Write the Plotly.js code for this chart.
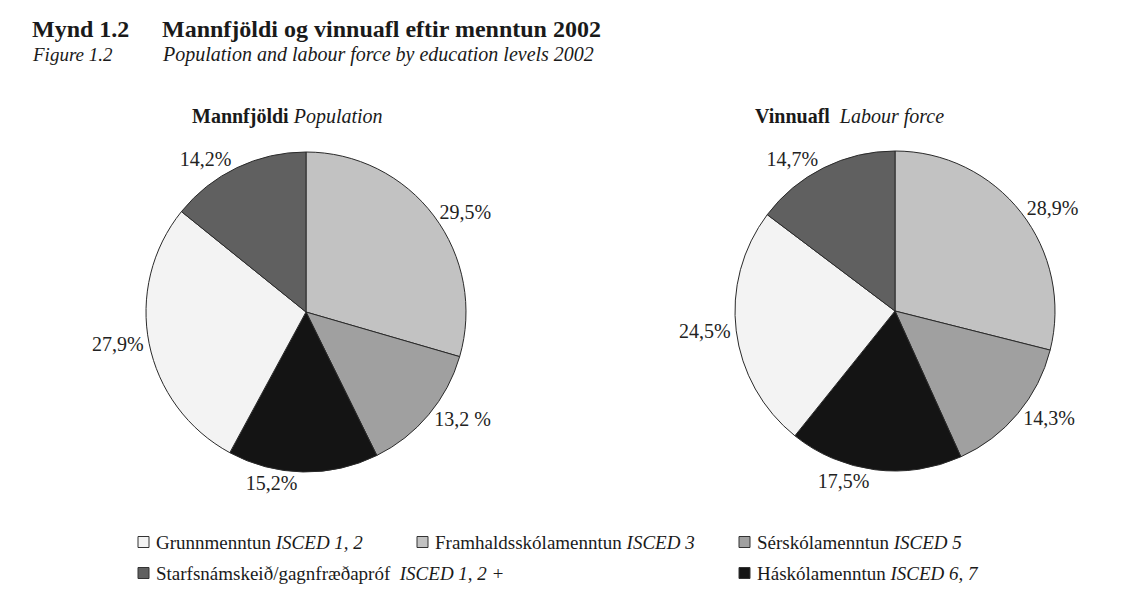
<!DOCTYPE html>
<html>
<head>
<meta charset="utf-8">
<script src="https://cdn.plot.ly/plotly-3.0.1.min.js"></script>
<style>html,body{margin:0;padding:0;background:#fff;}#chart{width:1128px;height:599px;}</style>
</head>
<body>
<div id="chart"></div>
<script>
// Categories (clockwise from 12 o'clock)
const categories = ["Framhaldsskólamenntun", "Sérskólamenntun", "Háskólamenntun", "Grunnmenntun", "Starfsnámskeið/gagnfræðapróf"];
const isced = ["ISCED 3", "ISCED 5", "ISCED 6, 7", "ISCED 1, 2", "ISCED 1, 2 +"];
const population = [29.5, 13.2, 15.2, 27.9, 14.2];
const labourForce = [28.9, 14.3, 17.5, 24.5, 14.7];
const sliceColors = ["#c2c2c2", "#a0a0a0", "#141414", "#f3f3f3", "#606060"];

// Legend layout order: Grunn, Framhalds, Sérskóla / Starfsnám, Háskóla
const legendOrder = [3, 0, 1, 4, 2];

const W = 1128, H = 599;
const px = x => x / W;
const py = y => 1 - y / H;

const serif = "Liberation Serif, Times New Roman, serif";

function pieTrace(values, cx, cy, r, tmpl) {
  return {
    type: "pie",
    labels: categories,
    values: values,
    sort: false,
    direction: "clockwise",
    rotation: 0,
    marker: {colors: sliceColors, line: {color: "#2a2a2a", width: 1}},
    textposition: "outside",
    texttemplate: tmpl,
    textfont: {family: serif, size: 20, color: "#222"},
    hoverinfo: "none",
    showlegend: false,
    domain: {x: [px(cx - r), px(cx + r)], y: [py(cy + r), py(cy - r)]}
  };
}

const tmplPop = population.map((v, i) => i === 1 ? "%{value:.1f} %" : "%{value:.1f}%");
const data = [
  pieTrace(population, 306, 312, 160, tmplPop),
  pieTrace(labourForce, 895, 311, 160, "%{value:.1f}%")
];

function ann(text, x, y, size) {
  return {xref: "paper", yref: "paper", xanchor: "left", yanchor: "middle", showarrow: false,
    text: text, x: px(x), y: py(y), font: {family: serif, size: size, color: "#1a1a1a"}};
}

const annotations = [
  ann("<b>Mynd 1.2</b>", 30, 29, 24),
  ann("<b>Mannfjöldi og vinnuafl eftir menntun 2002</b>", 160, 29, 24),
  ann("<i>Figure 1.2</i>", 30, 55, 19),
  ann("<i>Population and labour force by education levels 2002</i>", 160, 55, 20),
  ann("<b>Mannfjöldi</b> <i>Population</i>", 190, 116, 20),
  ann("<b>Vinnuafl</b>  <i>Labour force</i>", 753, 116, 20)
];

// Legend built from categories
const legendPos = [[138, 542], [417, 542], [739, 542], [138, 573], [739, 573]];
const shapes = [];
legendOrder.forEach((ci, k) => {
  const [lx, ly] = legendPos[k];
  shapes.push({type: "rect", xref: "paper", yref: "paper",
    x0: px(lx), x1: px(lx + 11), y0: py(ly + 5.5), y1: py(ly - 5.5),
    fillcolor: sliceColors[ci], line: {color: "#333", width: 1}});
  const sep = ci === 4 ? "  " : " ";
  annotations.push(ann(categories[ci] + sep + "<i>" + isced[ci] + "</i>", lx + 16, ly, 19));
});

const layout = {
  width: W, height: H,
  margin: {l: 0, r: 0, t: 0, b: 0},
  paper_bgcolor: "#ffffff",
  separators: ",.",
  showlegend: false,
  annotations: annotations,
  shapes: shapes
};

Plotly.newPlot("chart", data, layout, {displayModeBar: false, staticPlot: true});
</script>
</body>
</html>
